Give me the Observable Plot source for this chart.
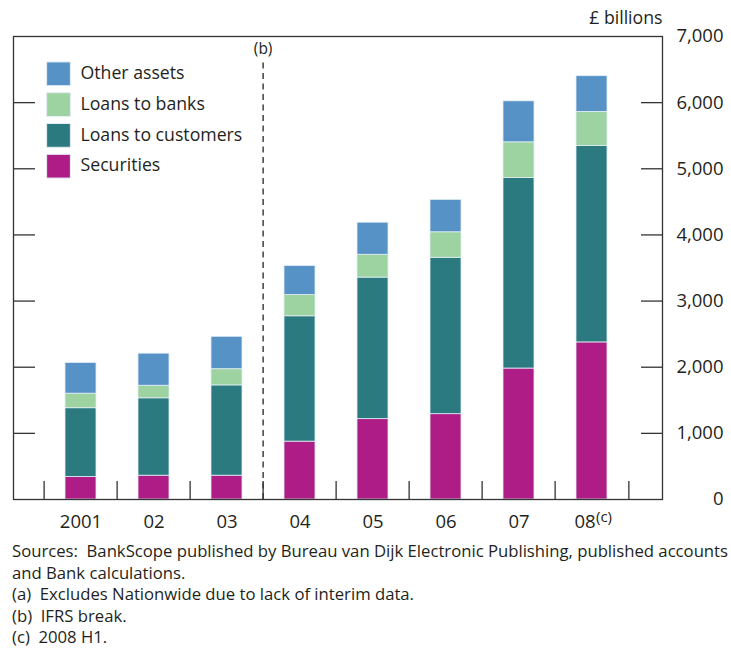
<!DOCTYPE html>
<html><head><meta charset="utf-8">
<script src="https://cdn.jsdelivr.net/npm/d3@7"></script>
<script src="https://cdn.jsdelivr.net/npm/@observablehq/plot@0.6"></script>
<style>
body{margin:0;background:#fff;font-family:"Open Sans",sans-serif;}
#notes{margin:6px 0 0 12px;font-size:16px;line-height:21.5px;color:#231f20;white-space:pre;transform-origin:0 0;}
</style></head><body>
<div id="chart"></div>
<div id="notes"></div>
<script>
// ---- data ----
const years = ["2001","02","03","04","05","06","07","08"];
const seriesNames = ["Securities","Loans to customers","Loans to banks","Other assets"];
const securities     = [340, 360, 360, 875, 1215, 1290, 1980, 2375];
const loansCustomers = [1040, 1170, 1365, 1895, 2140, 2365, 2880, 2970];
const loansBanks     = [220, 190, 245, 320, 345, 385, 540, 515];
const otherAssets    = [465, 485, 490, 440, 485, 490, 620, 540];
const seriesColors = ["#ae1d86","#2b7a80","#9dd3a0","#5792c6"];
const legendOrder = ["Other assets","Loans to banks","Loans to customers","Securities"];
const yTicks = [0,1000,2000,3000,4000,5000,6000,7000];
const unitLabel = "£ billions";
const breakLabel = "(b)";
const breakYear = "04";
const lastNote = "(c)";
const notes = [
  "Sources:  BankScope published by Bureau van Dijk Electronic Publishing, published accounts",
  "and Bank calculations.",
  "(a)  Excludes Nationwide due to lack of interim data.",
  "(b)  IFRS break.",
  "(c)  2008 H1."
];

const seriesValues = [securities, loansCustomers, loansBanks, otherAssets];
const data = years.flatMap((year, i) =>
  seriesNames.map((series, s) => ({year, series, value: seriesValues[s][i]})));

// ---- layout ----
const W = 731, H = 535, mT = 36, mB = 36, mL = 13, mR = 69, iL = 28, iR = 31;
const step = (W - mL - mR - iL - iR) / years.length;
const yMax = yTicks[yTicks.length - 1];
const px2v = yMax / (H - mT - mB);
const ink = "#231f20", axisInk = "#333";
const innerTicks = yTicks.slice(1, -1);

const legendMarks = legendOrder.flatMap((name, i) => [
  Plot.dot([name], {frameAnchor: "top-left", dx: 45, dy: 37.3 + i * 30.8, symbol: "square", r: 13.4,
    fill: d => d, stroke: "#e3eef5", strokeWidth: 1}),
  Plot.text([name], {frameAnchor: "top-left", lineAnchor: "middle", dx: 67, dy: 36.8 + i * 30.8, text: d => d,
    textAnchor: "start", fontSize: 17.7, fill: ink})
]);

const chart = Plot.plot({
  width: W, height: H, marginTop: mT, marginBottom: mB, marginLeft: mL, marginRight: mR,
  style: {fontFamily: '"Open Sans", sans-serif', fontSize: "17px", color: ink, background: "#fff", overflow: "visible"},
  x: {type: "band", domain: years, padding: 0, insetLeft: iL, insetRight: iR, axis: null},
  y: {domain: [0, yMax], label: null},
  color: {domain: seriesNames, range: seriesColors},
  marks: [
    Plot.barY(data, {x: "year", y: "value", fill: "series", order: seriesNames,
      insetLeft: 21, insetRight: 21, stroke: "#e3eef5", strokeWidth: 0.8}),
    Plot.frame({stroke: axisInk, strokeWidth: 1.3}),
    Plot.axisY({anchor: "left", ticks: innerTicks, tickSize: -22, tickFormat: () => "", label: null, stroke: axisInk, strokeWidth: 1.3}),
    Plot.axisY({anchor: "right", ticks: innerTicks, tickSize: -22, tickFormat: () => "", label: null, stroke: axisInk, strokeWidth: 1.3}),
    Plot.text(yTicks, {y: d => d, text: d => d3.format(",")(d), frameAnchor: "right", dx: 61, textAnchor: "end", fontSize: 18.5, fill: ink}),
    Plot.ruleX(years, {x: d => d, dx: -step / 2, y1: 0, y2: 18 * px2v, stroke: axisInk, strokeWidth: 1.3}),
    Plot.ruleX([years[years.length - 1]], {x: d => d, dx: step / 2, y1: 0, y2: 18 * px2v, stroke: axisInk, strokeWidth: 1.3}),
    Plot.ruleX([breakYear], {x: d => d, dx: -step / 2, y1: 0, y2: yMax - 23 * px2v, stroke: axisInk, strokeWidth: 1.4, strokeDasharray: "6,4.5"}),
    Plot.text([breakYear], {x: d => d, y: () => yMax, dx: -step / 2, dy: 13, text: () => breakLabel, fontSize: 15.5, fill: ink}),
    Plot.text([unitLabel], {frameAnchor: "top-right", lineAnchor: "middle", dy: -18, text: d => d, textAnchor: "end", fontSize: 17.7, fill: ink}),
    Plot.text(years.slice(0, -1), {x: d => d, y: () => 0, dy: 23, text: d => d, fontSize: 18.5, fill: ink}),
    Plot.text(years.slice(-1), {x: d => d, y: () => 0, dy: 23, dx: -7, text: d => d, fontSize: 18.5, fill: ink}),
    Plot.text(years.slice(-1), {x: d => d, y: () => 0, dy: 18, dx: 4, text: () => lastNote, textAnchor: "start", fontSize: 15, fill: ink}),
    ...legendMarks
  ]
});
document.getElementById("chart").appendChild(chart);

const notesEl = document.getElementById("notes");
for (const t of notes) {
  const d = document.createElement("div");
  const s = document.createElement("span");
  s.textContent = t;
  d.appendChild(s);
  notesEl.appendChild(d);
}
function fitNotes() {
  const w = notesEl.querySelector("span").getBoundingClientRect().width;
  notesEl.style.transform = "scaleX(" + (716 / w) + ")";
}
fitNotes();
if (document.fonts && document.fonts.ready) document.fonts.ready.then(() => { notesEl.style.transform = ""; fitNotes(); });
</script>
</body></html>
